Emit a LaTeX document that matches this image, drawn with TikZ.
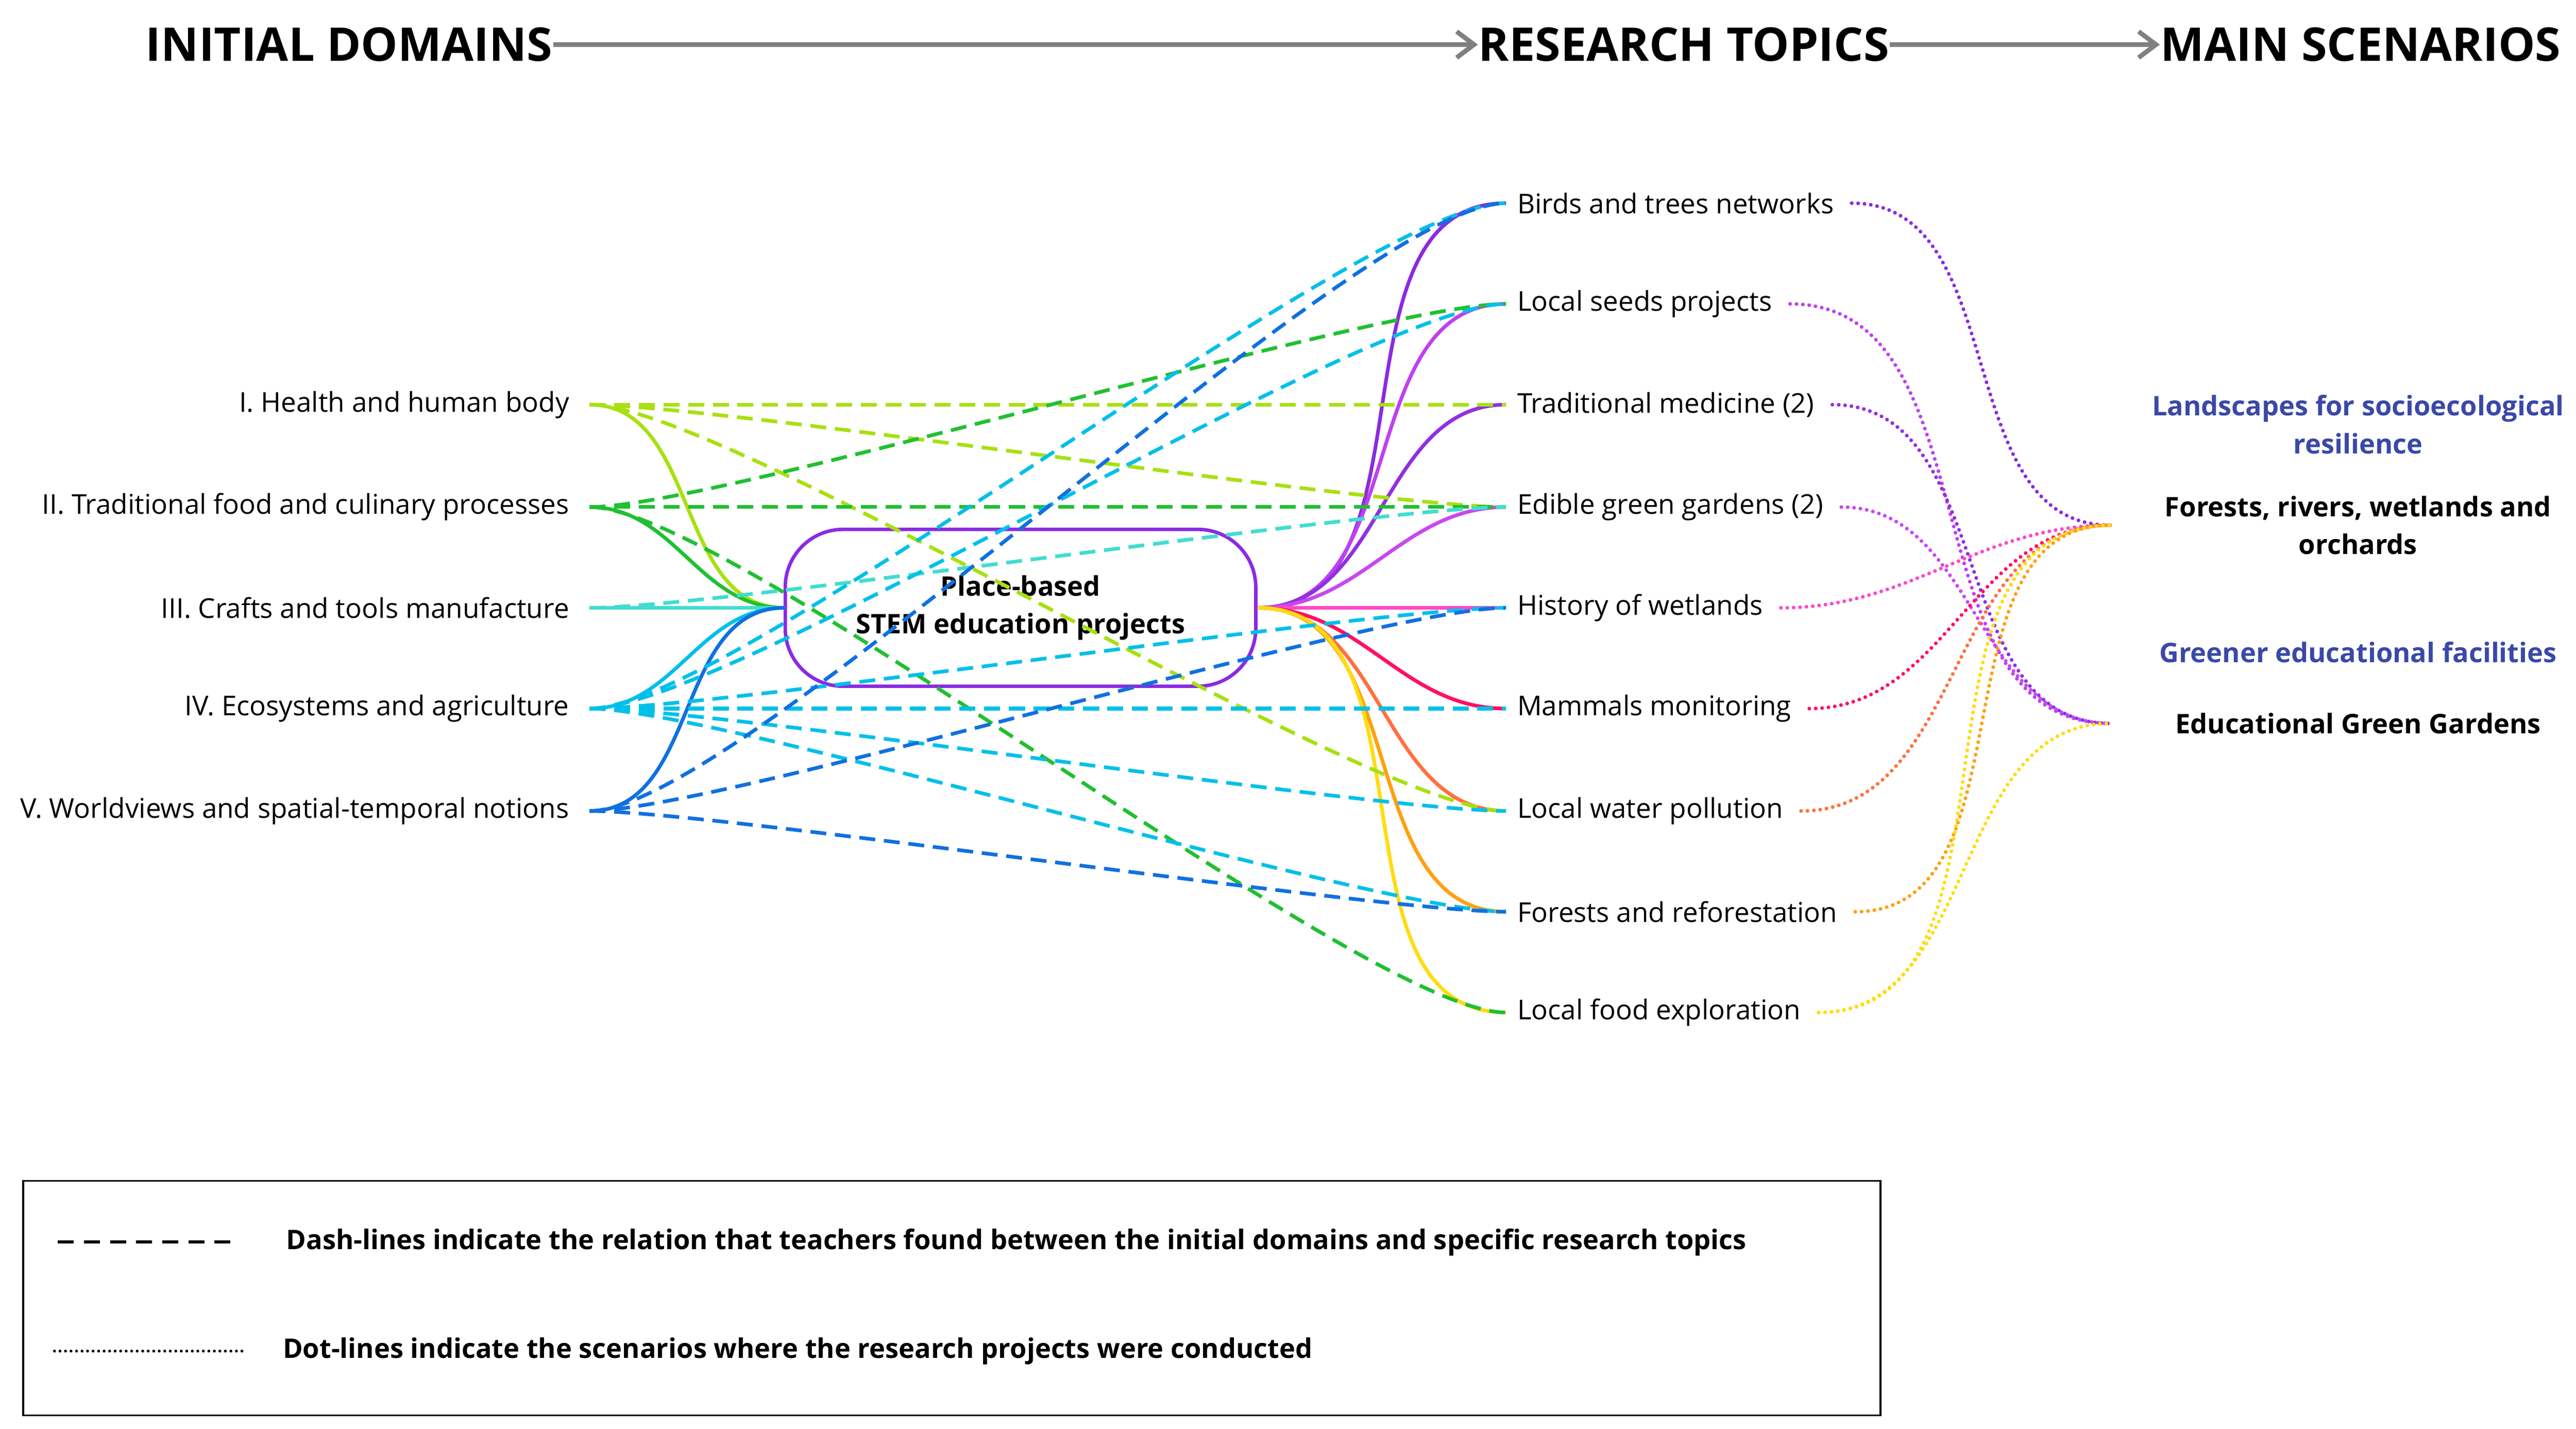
\documentclass[tikz,border=0pt]{standalone}
\usepackage{fontspec}
\setmainfont{Open Sans}
\usetikzlibrary{arrows.meta,positioning}
\definecolor{cI}{HTML}{A8E010}
\definecolor{cII}{HTML}{20C030}
\definecolor{cIII}{HTML}{40DDD0}
\definecolor{cIV}{HTML}{00C0EA}
\definecolor{cV}{HTML}{1070E0}
\definecolor{tBirds}{HTML}{8A2BE2}
\definecolor{tSeeds}{HTML}{C040F0}
\definecolor{tMed}{HTML}{9030E0}
\definecolor{tGard}{HTML}{C848F0}
\definecolor{tWet}{HTML}{FF48C8}
\definecolor{tMam}{HTML}{FF1060}
\definecolor{tPol}{HTML}{FF7040}
\definecolor{tFor}{HTML}{FFA010}
\definecolor{tFood}{HTML}{FFDC10}
\definecolor{scenblue}{HTML}{3A48A8}
\definecolor{titlegray}{HTML}{808080}
\tikzset{
  domlabel/.style={anchor=east,inner sep=0pt,font=\fontsize{9.4}{11}\selectfont},
  topic/.style={anchor=west,inner ysep=0pt,inner xsep=6pt,font=\fontsize{9.4}{11}\selectfont},
  title/.style={inner sep=0pt,font=\fontsize{16}{18}\selectfont\bfseries},
  scenlabel/.style={align=center,inner sep=0pt,font=\fontsize{9.3}{13}\selectfont\bfseries},
  solid link/.style={line width=1.25pt,out=0,in=180},
  dash link/.style={line width=1.25pt,dash pattern=on 5.5pt off 3pt,out=0,in=180,looseness=0.35},
  dot link/.style={line width=1.3pt,line cap=round,dash pattern=on 0pt off 2.2pt,out=0,in=180},
  head/.style={-{Straight Barb[length=6pt,width=9pt]},line width=1.6pt,titlegray}
}
\begin{document}
\begin{tikzpicture}[x=0.02cm,y=-0.02cm]
\useasboundingbox (0,0) rectangle (1560,865);

% titles
\node[title,anchor=east] (tdom) at (335,27) {INITIAL DOMAINS};
\node[title,anchor=west] (ttop) at (895,27) {RESEARCH TOPICS};
\node[title,anchor=west] (tsce) at (1308,27) {MAIN SCENARIOS};
\draw[head] (tdom.east) -- (ttop.west);
\draw[head] (ttop.east) -- (tsce.west);

% center box
\node[draw=tBirds,line width=1.2pt,rounded corners=0.7cm,minimum width=5.7cm,minimum height=1.9cm,
  align=center,font=\fontsize{9.3}{13}\selectfont\bfseries] (hub) at (618,368) {Place-based\\STEM education projects};
\coordinate (hubL) at (475,368);
\coordinate (hubR) at (762,368);

% domains
\foreach \n/\y/\t in {I/245/I. Health and human body,
  II/307/II. Traditional food and culinary processes,
  III/368/III. Crafts and tools manufacture,
  IV/429/IV. Ecosystems and agriculture,
  V/491/V. Worldviews and spatial-temporal notions}{
  \node[domlabel] (d\n) at (345,\y) {\t};
  \coordinate (p\n) at (357,\y);
}

% topics
\foreach \n/\y/\t in {Birds/123/Birds and trees networks,
  Seeds/184/Local seeds projects,
  Med/245/Traditional medicine (2),
  Gard/307/Edible green gardens (2),
  Wet/368/History of wetlands,
  Mam/429/Mammals monitoring,
  Pol/491/Local water pollution,
  For/552/Forests and reforestation,
  Food/613/Local food exploration}{
  \node[topic] (t\n) at (908,\y) {\t};
  \coordinate (q\n) at (912,\y);
}

% scenarios
\coordinate (sA) at (1278,318);
\coordinate (sB) at (1278,438);
\node[scenlabel,text=scenblue] (hA) at (1428,257) {Landscapes for socioecological\\resilience};
\node[scenlabel] (nA) at (1428,318) {Forests, rivers, wetlands and\\orchards};
\node[scenlabel,text=scenblue] (hB) at (1428,395) {Greener educational facilities};
\node[scenlabel] (nB) at (1428,438) {Educational Green Gardens};

% domains -> hub
\foreach \n in {I,II,III,IV,V}
  \draw[solid link,c\n] (p\n) to (hubL);

% hub -> topics
\foreach \n in {Birds,Seeds,Med,Gard,Wet,Mam,Pol,For,Food}
  \draw[solid link,t\n] (hubR) to (q\n);

% dash-lines: domains -> topics
\foreach \a/\b in {I/Med,I/Gard,I/Pol,II/Seeds,II/Gard,II/Food,III/Gard,
  IV/Birds,IV/Seeds,IV/Wet,IV/Mam,IV/Pol,IV/For,V/Birds,V/Wet,V/For}
  \draw[dash link,c\a] (p\a) to (q\b);

% dot-lines: topics -> scenarios
\foreach \a/\b in {Birds/A,Seeds/B,Med/B,Gard/B,Wet/A,Mam/A,Pol/A,For/A,Food/A,Food/B}
  \draw[dot link,t\a] (t\a.east) to (s\b);

% legend
\node[draw,line width=0.6pt,minimum width=22.5cm,minimum height=2.84cm,inner sep=0pt,outer sep=0pt,anchor=north west] (legend) at (14,715) {};
\coordinate (dashA) at (35,752);
\coordinate (dashB) at (140,752);
\coordinate (dotA) at (33,818);
\coordinate (dotB) at (147,818);
\draw[line width=1.1pt,dash pattern=on 5.5pt off 3.5pt] (dashA) -- (dashB);
\draw[line width=1pt,line cap=round,dash pattern=on 0pt off 1.9pt] (dotA) -- (dotB);
\node[scenlabel,anchor=west] (ldash) at (173,752) {Dash-lines indicate the relation that teachers found between the initial domains and specific research topics};
\node[scenlabel,anchor=west] (ldot) at (171,818) {Dot-lines indicate the scenarios where the research projects were conducted};
\end{tikzpicture}
\end{document}
